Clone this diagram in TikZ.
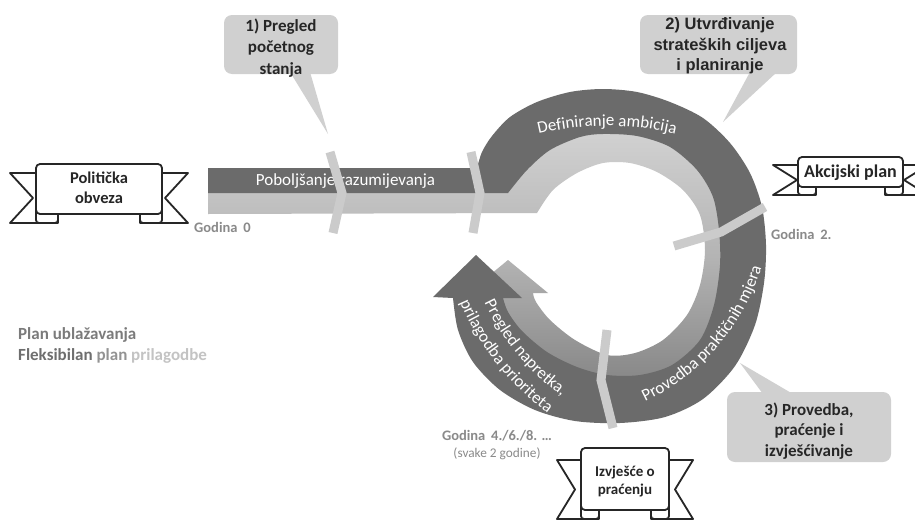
\documentclass[tikz,border=0pt]{standalone}
\usepackage{fontspec}
\setmainfont{Carlito}
\newfontfamily\arialfont{Liberation Sans}
\usetikzlibrary{decorations.text}

\definecolor{bandDark}{HTML}{6B6B6B}
\definecolor{slashGray}{HTML}{CBCBCB}
\definecolor{calloutGray}{HTML}{D0D0D0}
\definecolor{ribbonInk}{HTML}{262626}
\definecolor{textDark}{HTML}{262626}
\definecolor{labelGray}{HTML}{8A8A8A}
\definecolor{shTop}{HTML}{D4D4D4}
\definecolor{shMid}{HTML}{B4B4B4}
\definecolor{shBot}{HTML}{838383}
\definecolor{planA}{HTML}{7B7B7B}
\definecolor{flexA}{HTML}{6E6E6E}
\definecolor{flexB}{HTML}{939393}
\definecolor{flexC}{HTML}{C3C3C3}

\newcommand{\bandfont}{\fontsize{17}{18}\selectfont\color{white}}

% #1 L, #2 R, #3 T, #4 B, #5 tail length, #6 tail top drop, #7 tail bottom drop, #8 fold width, #9 notch
\newcommand{\drawribbon}[9]{%
  \filldraw[ribbonline] ({#1+#8},{-(#4)}) -- ({#1+#8},{-(#4+#7)}) -- ({#1-#5},{-(#4+#7)})
     -- ({#1-#9},{-(#3+#6+#4+#7)/2}) -- ({#1-#5},{-(#3+#6)}) -- ({#1},{-(#3+#6)});
  \filldraw[ribbonline] ({#2-#8},{-(#4)}) -- ({#2-#8},{-(#4+#7)}) -- ({#2+#5},{-(#4+#7)})
     -- ({#2+#9},{-(#3+#6+#4+#7)/2}) -- ({#2+#5},{-(#3+#6)}) -- ({#2},{-(#3+#6)});
  \filldraw[ribbonline, rounded corners=3pt] ({#1},{-(#4-4)}) -- ({#1},{-(#4+#7)}) -- ({#1+#8},{-(#4+#7)}) -- ({#1+#8},{-(#4-4)});
  \filldraw[ribbonline, rounded corners=3pt] ({#2},{-(#4-4)}) -- ({#2},{-(#4+#7)}) -- ({#2-#8},{-(#4+#7)}) -- ({#2-#8},{-(#4-4)});
  \filldraw[ribbonline, rounded corners=4pt] ({#1},{-(#3)}) rectangle ({#2},{-(#4)});
}

\begin{document}
\begin{tikzpicture}[x=1pt,y=1pt,
  ribbonline/.style={draw=ribbonInk, line width=1.8pt, fill=white, line join=round},
  slashmark/.style={draw=slashGray, line width=9pt, line join=miter},
  calloutbox/.style={fill=calloutGray, rounded corners=8pt},
  callouttail/.style={fill=calloutGray},
  calltext/.style={font=\bfseries\fontsize{17}{21.5}\selectfont, text=textDark, align=center, inner sep=0pt},
  ribbontext/.style={font=\bfseries\fontsize{16.5}{20}\selectfont, text=textDark, align=center, inner sep=0pt},
  bandtext/.style={font=\fontsize{17}{18}\selectfont, text=white, inner sep=0pt},
  godina/.style={font=\bfseries\fontsize{14.5}{16}\selectfont, text=labelGray, inner sep=0pt},
  lefttext/.style={font=\bfseries\fontsize{17}{20}\selectfont, inner sep=0pt, anchor=west},
  curvedtext/.style={decorate, decoration={text along path, text align=center, text={#1}}}
]
\path[use as bounding box] (0,0) rectangle (915,-522);
\clip (0,0) rectangle (915,-522);
\fill[white] (0,0) rectangle (915,-522);

% light (gradient) band with inner arrow
\shade[top color=shTop, bottom color=shBot, middle color=shMid]
  (208,-190) -- plot[smooth,tension=0.5] coordinates {(500,-185) (512,-165) (535,-143) (565,-127) (603,-120) (640,-123) (675,-135) (705,-158) (725,-190) (735,-230) (737,-265) (730,-305) (712,-345) (680,-375) (640,-390) (605,-392) (570,-385) (537,-368) (510,-345) (492,-320) (483,-293)}
  -- (468,-293) -- (508,-260) -- (548,-293)
  -- plot[smooth,tension=0.5] coordinates {(533,-293) (536,-302) (550,-320) (575,-340) (607,-355) (635,-353) (663,-340) (687,-315) (700,-285) (705,-250) (700,-215) (683,-190) (657,-172) (630,-163) (603,-163) (577,-173) (553,-190) (537,-213)}
  -- (208,-214) -- cycle;

% dark band with outer arrow
\fill[bandDark]
  (208,-168) -- plot[smooth,tension=0.5] coordinates {(477,-168) (482,-152) (492,-136) (510,-117) (537,-102) (570,-92) (603,-89) (637,-92) (670,-102) (703,-118) (730,-143) (750,-173) (762,-207) (766,-245) (764,-283) (755,-325) (735,-366) (703,-399) (665,-417) (620,-423) (575,-421) (535,-410) (500,-390) (473,-362) (458,-330) (453,-298)}
  -- (433,-297) -- (476,-255) -- (522,-298)
  -- plot[smooth,tension=0.5] coordinates {(503,-298) (508,-312) (522,-331) (547,-352) (577,-367) (607,-375) (640,-375) (672,-365) (700,-340) (714,-305) (720,-265) (719,-230) (713,-197) (697,-170) (670,-147) (637,-136) (603,-134) (580,-137) (550,-150) (527,-170) (508,-193)}
  -- (208,-193) -- cycle;

% texts on the bands
\node[bandtext] (pobolj) at (345.5,-181) {Poboljšanje razumijevanja};
\path[curvedtext={|\bandfont|Definiranje ambicija}]
  ({607+300*cos(104)},{-426+300*sin(104)}) arc[start angle=104, end angle=76, radius=300pt];
\path[curvedtext={|\bandfont|Provedba praktičnih mjera}]
  ({551.2+220*cos(-66.2)},{-202.8+220*sin(-66.2)}) arc[start angle=-66.2, end angle=-15.6, radius=220pt];
\path[curvedtext={|\bandfont|Pregled napretka{,}}]
  ({708.1+248*cos(204.6)},{-196+248*sin(204.6)}) arc[start angle=204.6, end angle=234.8, radius=248pt];
\path[curvedtext={|\bandfont|prilagodba prioriteta}]
  ({708.1+270*cos(202.8)},{-196+270*sin(202.8)}) arc[start angle=202.8, end angle=234, radius=270pt];

% time markers
\draw[slashmark] (330,-152) -- (342,-193) -- (333,-233);
\draw[slashmark] (471,-152) -- (480,-193) -- (473,-233);
\draw[slashmark] (765,-207) -- (721,-232) -- (674,-246);
\draw[slashmark] (607,-330) -- (601,-380) -- (613,-428);

% callouts
\fill[calloutbox] (224,-15) rectangle (338,-74);
\fill[callouttail] (290,-72) -- (310,-72) -- (328,-134) -- cycle;
\node[calltext] (c1) at (281,-48) {1) Pregled\\početnog\\stanja};

\fill[calloutbox] (640,-15) rectangle (797,-74);
\fill[callouttail] (750,-72) -- (777,-72) -- (723,-122) -- cycle;
\node[calltext, font=\arialfont\bfseries\fontsize{16.5}{20.5}\selectfont] (c2) at (720,-46) {2) Utvrđivanje\\strateških ciljeva\\i planiranje};

\fill[calloutbox] (727,-392) rectangle (891,-462);
\fill[callouttail] (763,-394) -- (793,-394) -- (740,-363) -- cycle;
\node[calltext, font=\bfseries\fontsize{17}{20.5}\selectfont] (c3) at (809,-431) {3) Provedba,\\praćenje i\\izvješćivanje};

% ribbons
\drawribbon{36}{162}{164}{214}{26}{9}{9}{22}{3}
\node[ribbontext] (polit) at (99,-188) {Politička\\obveza};
\drawribbon{798}{903}{157}{187}{25}{8}{8}{18}{1}
\node[ribbontext, font=\bfseries\fontsize{18}{20}\selectfont] (akc) at (850.5,-173) {Akcijski plan};
\drawribbon{581}{669}{448}{510}{24}{12}{9}{18}{6}
\node[ribbontext, font=\bfseries\fontsize{15}{18}\selectfont] (izvj) at (625,-481) {Izvješće o\\praćenju};

% year labels
\node[godina, anchor=west] (g0) at (194,-227) {Godina\hspace{0.4em}0};
\node[godina, anchor=west] (g2) at (771,-234) {Godina\hspace{0.4em}2.};
\node[godina] (g4) at (497,-436) {Godina\hspace{0.4em}4./6./8. …};
\node[inner sep=0pt, text=labelGray, font=\fontsize{13.3}{15}\selectfont] (g4b) at (497,-454) {(svake 2 godine)};

% legend text
\node[lefttext, text=planA] (plan1) at (18,-335) {Plan ublažavanja};
\node[lefttext] (plan2) at (18,-356) {\textcolor{flexA}{Fleksibilan} \textcolor{flexB}{plan} \textcolor{flexC}{prilagodbe}};
\end{tikzpicture}
\end{document}
